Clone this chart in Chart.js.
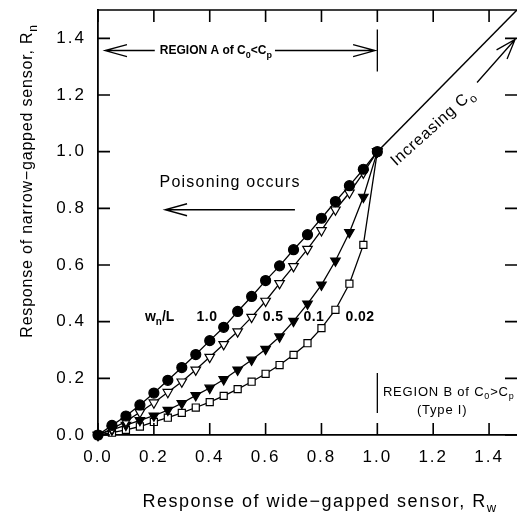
<!DOCTYPE html>
<html>
<head>
<meta charset="utf-8">
<script src="https://cdn.jsdelivr.net/npm/chart.js@4.4.1/dist/chart.umd.min.js"></script>
<style>
  html, body { margin: 0; padding: 0; background: #fff; }
</style>
</head>
<body>
<canvas id="myChart" width="517" height="517"></canvas>
<script>
// response of wide-gapped sensor (x), shared by all curves
const rw = [0, 0.05, 0.1, 0.15, 0.2, 0.25, 0.3, 0.35, 0.4, 0.45, 0.5,
            0.55, 0.6, 0.65, 0.7, 0.75, 0.8, 0.85, 0.9, 0.95, 1.0];

// response of narrow-gapped sensor for each wn/L
const rn10  = [0, 0.034, 0.067, 0.106, 0.148, 0.193, 0.238, 0.284, 0.333, 0.380, 0.436,
               0.489, 0.545, 0.597, 0.654, 0.707, 0.765, 0.824, 0.880, 0.938, 1.0];
const rn05  = [0, 0.022, 0.048, 0.080, 0.114, 0.151, 0.188, 0.230, 0.275, 0.320, 0.365,
               0.416, 0.473, 0.535, 0.595, 0.656, 0.722, 0.795, 0.855, 0.925, 1.0];
const rn01  = [0, 0.018, 0.035, 0.052, 0.068, 0.088, 0.112, 0.140, 0.166, 0.196, 0.230,
               0.265, 0.303, 0.347, 0.402, 0.463, 0.530, 0.615, 0.715, 0.840, 1.0];
const rn002 = [0, 0.008, 0.018, 0.030, 0.046, 0.061, 0.078, 0.097, 0.116, 0.138, 0.162,
               0.188, 0.216, 0.247, 0.283, 0.324, 0.377, 0.442, 0.534, 0.671, 1.0];

// region above Rw = 1 : Rn = Rw
const diagX = [1.0, 1.5];
const diagY = [1.0, 1.5];

const tickValues = [0, 0.2, 0.4, 0.6, 0.8, 1.0, 1.2, 1.4];

const pts = (xs, ys) => xs.map((v, i) => ({ x: v, y: ys[i] }));

const FONT = 'Liberation Sans, Arial, sans-serif';
const tickLen = 12;

function richText(ctx, parts, x, y, align, size, weight, spacing) {
  const subSize = Math.round(size * 0.72);
  ctx.letterSpacing = (spacing || 0) + 'px';
  ctx.textBaseline = 'middle';
  ctx.textAlign = 'left';
  let total = 0;
  const widths = parts.map(p => {
    ctx.font = (weight || 'normal') + ' ' + (p[1] ? subSize : size) + 'px ' + FONT;
    const w = ctx.measureText(p[0]).width;
    total += w;
    return w;
  });
  let cx = align === 'center' ? x - total / 2 : (align === 'right' ? x - total : x);
  const left = cx;
  parts.forEach((p, i) => {
    ctx.font = (weight || 'normal') + ' ' + (p[1] ? subSize : size) + 'px ' + FONT;
    ctx.fillText(p[0], cx, p[1] ? y + size * 0.38 : y);
    cx += widths[i];
  });
  return { left: left, right: left + total };
}

function openHead(ctx, x1, y1, x2, y2, len, half) {
  const a = Math.atan2(y2 - y1, x2 - x1);
  const bx = x2 - Math.cos(a) * len, by = y2 - Math.sin(a) * len;
  const nx = -Math.sin(a) * half, ny = Math.cos(a) * half;
  ctx.moveTo(bx + nx, by + ny);
  ctx.lineTo(x2, y2);
  ctx.lineTo(bx - nx, by - ny);
}

const spacingPlugin = {
  id: 'spacing',
  beforeDraw(chart) { chart.ctx.letterSpacing = '2px'; }
};

const framePlugin = {
  id: 'frame',
  afterDraw(chart) {
    const { ctx, chartArea: a, scales: { x, y } } = chart;
    ctx.save();
    ctx.strokeStyle = '#000';
    ctx.lineWidth = 1.6;
    ctx.beginPath();
    ctx.moveTo(a.left, a.top); ctx.lineTo(a.right, a.top);
    tickValues.forEach(v => {
      const px = x.getPixelForValue(v);
      ctx.moveTo(px, a.bottom); ctx.lineTo(px, a.bottom - tickLen);
      ctx.moveTo(px, a.top); ctx.lineTo(px, a.top + tickLen);
      const py = y.getPixelForValue(v);
      ctx.moveTo(a.left, py); ctx.lineTo(a.left + tickLen, py);
      ctx.moveTo(a.right, py); ctx.lineTo(a.right - tickLen, py);
    });
    ctx.stroke();
    ctx.restore();
  }
};

const notesPlugin = {
  id: 'notes',
  afterDraw(chart) {
    const { ctx, scales: { x, y } } = chart;
    const X = v => x.getPixelForValue(v), Y = v => y.getPixelForValue(v);
    ctx.save();
    ctx.fillStyle = '#000';
    ctx.strokeStyle = '#000';
    ctx.lineWidth = 1.3;

    // region A
    const ya = Y(1.357);
    const ta = richText(ctx, [['REGION A of C'], ['0', 1], ['<C'], ['p', 1]], X(0.422), ya, 'center', 12, 'bold', 0);
    ctx.beginPath();
    ctx.moveTo(X(0.025), ya); ctx.lineTo(ta.left - 5, ya);
    ctx.moveTo(ta.right + 3, ya); ctx.lineTo(X(0.992), ya);
    openHead(ctx, X(0.2), ya, X(0.025), ya, 22, 6);
    openHead(ctx, X(0.8), ya, X(0.992), ya, 22, 6);
    ctx.moveTo(X(1.0), Y(1.431)); ctx.lineTo(X(1.0), Y(1.283));
    ctx.stroke();

    // poisoning
    richText(ctx, [['Poisoning occurs']], X(0.473), Y(0.890), 'center', 16, 'normal', 1.2);
    ctx.beginPath();
    ctx.moveTo(X(0.705), Y(0.795)); ctx.lineTo(X(0.240), Y(0.795));
    openHead(ctx, X(0.5), Y(0.795), X(0.240), Y(0.795), 22, 6);
    ctx.stroke();

    // curve labels
    const yl = Y(0.417);
    richText(ctx, [['w'], ['n', 1], ['/L']], X(0.168), yl, 'left', 14, 'bold', 0);
    richText(ctx, [['1.0']], X(0.390), yl, 'center', 14, 'bold', 0.5);
    richText(ctx, [['0.5']], X(0.627), yl, 'center', 14, 'bold', 0.5);
    richText(ctx, [['0.1']], X(0.773), yl, 'center', 14, 'bold', 0.5);
    richText(ctx, [['0.02']], X(0.938), yl, 'center', 14, 'bold', 0.5);

    // region B
    ctx.beginPath();
    ctx.moveTo(X(1.0), Y(0.219)); ctx.lineTo(X(1.0), Y(0.078));
    ctx.stroke();
    richText(ctx, [['REGION B of C'], ['0', 1], ['>C'], ['p', 1]], X(1.02), Y(0.152), 'left', 13, 'normal', 0.8);
    richText(ctx, [['(Type I)']], X(1.232), Y(0.088), 'center', 13, 'normal', 0.8);

    // increasing C0
    ctx.save();
    ctx.translate(X(1.199), Y(1.085));
    ctx.rotate(-42 * Math.PI / 180);
    richText(ctx, [['Increasing C'], ['o', 1]], 0, 0, 'center', 16, 'normal', 0.8);
    ctx.restore();
    ctx.beginPath();
    ctx.moveTo(X(1.357), Y(1.244)); ctx.lineTo(X(1.493), Y(1.396));
    openHead(ctx, X(1.357), Y(1.244), X(1.493), Y(1.396), 20, 7);
    ctx.stroke();

    // axis titles
    richText(ctx, [['Response of wide\u2212gapped sensor, R'], ['w', 1]], 320, 502, 'center', 18, 'normal', 1.5);
    ctx.save();
    ctx.translate(28, 181);
    ctx.rotate(-Math.PI / 2);
    richText(ctx, [['Response of narrow\u2212gapped sensor, R'], ['n', 1]], 0, 0, 'center', 16, 'normal', 0.8);
    ctx.restore();

    ctx.letterSpacing = '0px';
    ctx.restore();
  }
};

const lineStyle = { borderColor: '#000', borderWidth: 1.3, tension: 0, pointBorderColor: '#000', pointBorderWidth: 1.2, clip: false };

const data = {
  datasets: [
    Object.assign({ label: '1.0', data: pts(rw, rn10), pointStyle: 'circle', pointRadius: 5, pointBackgroundColor: '#000' }, lineStyle),
    Object.assign({ label: '0.5', data: pts(rw, rn05), pointStyle: 'triangle', rotation: 180, pointRadius: 5.5, pointBackgroundColor: '#fff' }, lineStyle),
    Object.assign({ label: '0.1', data: pts(rw, rn01), pointStyle: 'triangle', rotation: 180, pointRadius: 5.5, pointBackgroundColor: '#000' }, lineStyle),
    Object.assign({ label: '0.02', data: pts(rw, rn002), pointStyle: 'rect', pointRadius: 5, pointBackgroundColor: '#fff' }, lineStyle),
    { label: 'Rn = Rw', data: pts(diagX, diagY), borderColor: '#000', borderWidth: 1.5, pointRadius: 0 }
  ]
};

const axisBase = {
  type: 'linear',
  min: 0,
  max: 1.5,
  grid: { display: false, drawTicks: false },
  border: { display: true, color: '#000', width: 1.8 },
  afterBuildTicks(scale) { scale.ticks = tickValues.map(v => ({ value: v })); }
};

const config = {
  type: 'scatter',
  data: data,
  options: {
    responsive: false,
    animation: false,
    showLine: true,
    layout: { autoPadding: false, padding: { top: 10, right: 0, left: 0, bottom: 0 } },
    plugins: { legend: { display: false }, tooltip: { enabled: false } },
    scales: {
      x: Object.assign({}, axisBase, {
        ticks: { color: '#000', padding: 12, font: { family: FONT, size: 17 }, maxRotation: 0, callback: v => v.toFixed(1) },
        afterFit(scale) { scale.height = 82; scale.paddingLeft = 0; scale.paddingRight = 0; }
      }),
      y: Object.assign({}, axisBase, {
        ticks: { color: '#000', padding: 12, font: { family: FONT, size: 17 }, callback: v => v.toFixed(1) },
        afterFit(scale) { scale.width = 98; scale.paddingTop = 0; scale.paddingBottom = 0; }
      })
    }
  },
  plugins: [spacingPlugin, framePlugin, notesPlugin]
};

const myChart = new Chart(document.getElementById('myChart'), config);
</script>
</body>
</html>
